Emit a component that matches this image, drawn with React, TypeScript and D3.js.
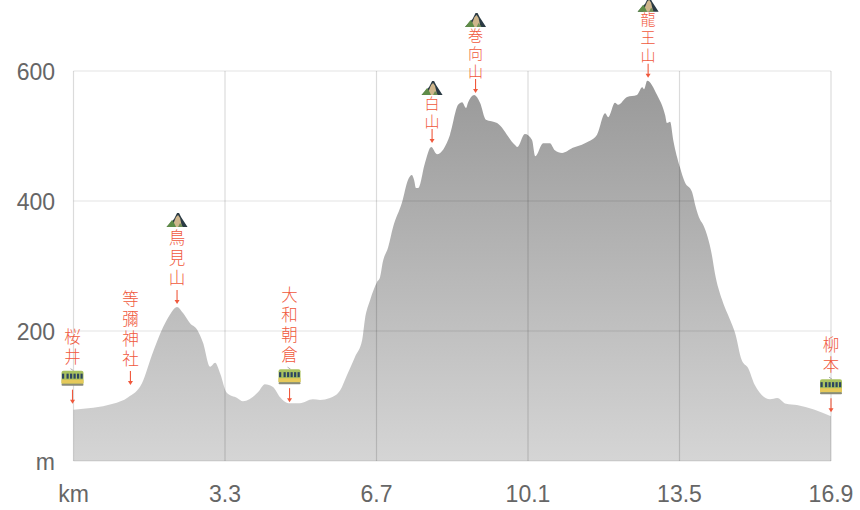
import React from "react";
import * as d3 from "d3";

const distances = [
  0, 0.88, 1.22, 1.53, 1.75, 2.0, 2.15, 2.31, 2.44, 2.6, 2.76, 2.89, 3.05, 3.16, 3.27, 3.42, 3.65, 3.78,
  4.12, 4.27, 4.45, 4.61, 4.79, 5.05, 5.34, 5.5, 5.72, 5.95, 6.1, 6.28, 6.44, 6.5, 6.62, 6.77, 6.84, 6.9,
  7.02, 7.13, 7.33, 7.46, 7.55, 7.6, 7.64, 7.69, 7.84, 7.98, 8.11, 8.4, 8.58, 8.67, 8.76, 8.8, 8.94, 9.07,
  9.2, 9.45, 9.85, 9.9, 10.07, 10.23, 10.3, 10.48, 10.63, 10.74, 10.9, 11.14, 11.41, 11.68, 11.86, 11.93,
  12.08, 12.15, 12.35, 12.57, 12.69, 12.73, 12.8, 13.02, 13.2, 13.24, 13.31, 13.38, 13.53, 13.64, 13.8,
  13.87, 13.98, 14.05, 14.25, 14.31, 14.47, 14.65, 14.76, 14.91, 15.05, 15.2, 15.54, 15.7, 15.9, 16.14, 16.9,
];
const elevations = [
  79, 88, 98, 120, 163, 206, 225, 237, 228, 212, 202, 182, 145, 151, 135, 105, 97, 92,
  106, 118, 114, 98, 89, 89, 95, 94, 97, 109, 132, 160, 186, 217, 248, 275, 283, 306,
  329, 360, 398, 432, 440, 432, 420, 420, 458, 483, 472, 502, 548, 552, 543, 551, 563, 551,
  525, 520, 486, 483, 503, 494, 469, 489, 489, 478, 474, 482, 489, 502, 535, 529,
  551, 548, 560, 563, 575, 572, 585, 563, 532, 520, 522, 494, 452, 429, 414,
  394, 371, 363, 314, 289, 248, 217, 197, 155, 143, 117, 95, 97, 88, 86, 69,
];

const yTicks = [0, 200, 400, 600];
const yLabels = ["m", "200", "400", "600"];
const xLabels = ["km", "3.3", "6.7", "10.1", "13.5", "16.9"];

const placeNames = ["桜井", "等彌神社", "鳥見山", "大和朝倉", "白山", "巻向山", "龍王山", "柳本"];
const placeKm = [0, 1.27, 2.31, 4.82, 8.0, 8.97, 12.82, 16.9];
const placeElev = [79, 100, 237, 89, 483, 563, 585, 69];
const placeIcons = ["train", "", "mountain", "train", "mountain", "mountain", "mountain", "train"];

const W = 860;
const H = 510;
const M = { l: 73.5, r: 29, t: 71, b: 49 };
const RED = "#f0583c";
const FONT = "'Liberation Sans', Arial, sans-serif";
const CJK = "'Noto Sans CJK JP', sans-serif";

// gap between the arrow tip and the ground, per place
const tipGaps = [6, 11, 3, 1, 4, 2, 3, 4];

const Mountain = ({ x, y }: { x: number; y: number }) => (
  <g transform={`translate(${x},${y})`}>
    <path d="M-10.5,7 L-3,-1 L0,-7 L2,-7 L4,-3 L10.5,7 Z" fill="#2b3b44" />
    <path d="M-5,7 L-1,-3 L1,-5 L3,-2 L5,7 Z" fill="#cfb68c" />
    <path d="M-10.5,7 L-5,0 L-3,3 L-1,7 Z" fill="#5f8c48" />
    <path d="M1,7 L3,3 L6,7 Z" fill="#6f8f55" />
  </g>
);

const Train = ({ x, y }: { x: number; y: number }) => (
  <g transform={`translate(${x},${y})`}>
    <path d="M-2,-9 L1,-7" stroke="#999" strokeWidth={0.8} />
    <rect x={-11} y={-7} width={22} height={14} rx={2} fill="#a9c25f" />
    <rect x={-11} y={2} width={22} height={4} fill="#e6c95a" />
    <rect x={-11} y={6} width={22} height={2} rx={1} fill="#8a8a7a" />
    {[-9.5, -5, -1.5, 2, 5.5, 9].map((d) => (
      <rect key={d} x={d - 1} y={-4} width={2.2} height={5} fill="#2d4660" />
    ))}
  </g>
);

export default function App() {
  const x = d3.scaleLinear().domain([0, 16.9]).range([M.l, W - M.r]);
  const y = d3.scaleLinear().domain([0, 600]).range([H - M.b, M.t]);

  const area = d3
    .area<number>()
    .x((d) => x(d))
    .y0(y(0))
    .y1((_, i) => y(elevations[i]))
    .curve(d3.curveMonotoneX);

  const xTicks = xLabels.map((_, i) => (i * 16.9) / (xLabels.length - 1));

  return (
    <svg
      width={W}
      height={H}
      viewBox={`0 0 ${W} ${H}`}
      style={{ position: "absolute", left: 0, top: 0, background: "#fff" }}
    >
      <defs>
        <linearGradient id="profileFill" x1="0" y1="0" x2="0" y2="1">
          <stop offset="0%" stopColor="#999" />
          <stop offset="100%" stopColor="#d5d5d5" />
        </linearGradient>
      </defs>

      <path d={area(distances) ?? ""} fill="url(#profileFill)" />

      {yTicks.map((t) => (
        <line key={t} x1={M.l} x2={W - M.r} y1={y(t)} y2={y(t)} stroke="#000" strokeOpacity={0.11} strokeWidth={1.2} />
      ))}
      {xTicks.map((t) => (
        <line key={t} x1={x(t)} x2={x(t)} y1={M.t} y2={H - M.b} stroke="#000" strokeOpacity={0.14} strokeWidth={1.2} />
      ))}

      {yTicks.map((t, i) => (
        <text key={t} x={55} y={y(t) + 9} textAnchor="end" fontFamily={FONT} fontSize={23} fill="#666">
          {yLabels[i]}
        </text>
      ))}
      {xTicks.map((t, i) => (
        <text key={t} x={x(t)} y={502} textAnchor="middle" fontFamily={FONT} fontSize={23} fill="#666">
          {xLabels[i]}
        </text>
      ))}

      {placeNames.map((name, i) => {
        const px = x(placeKm[i]) - (i === 0 ? 1 : 0);
        const tip = y(placeElev[i]) - tipGaps[i];
        const icon = placeIcons[i];
        const count = Array.from(name).length;
        // the three labels near the top of the chart are set a bit tighter
        const tight = i >= 4 && i <= 6;
        const step = tight ? 18 : 20;
        const size = tight ? 15 : 16.5;
        const bottom = icon === "train" ? tip - 47 : tight ? tip - 22 : tip - 26;
        const top = bottom - (count - 1) * step;
        return (
          <g key={name}>
            <line x1={px} x2={px} y1={tip - 14} y2={tip - 2} stroke={RED} strokeWidth={1.1} />
            <path d={`M${px - 2.5},${tip - 4} L${px},${tip} L${px + 2.5},${tip - 4} Z`} fill={RED} />
            <text
              x={px}
              y={top - size / 2}
              fontFamily={CJK}
              fontWeight={300}
              fontSize={size}
              fill={RED}
              style={{
                writingMode: "vertical-rl",
                textOrientation: "upright",
                letterSpacing: `${step - size}px`,
              }}
            >
              {name}
            </text>
            {icon === "train" && <Train x={px} y={tip - 26} />}
            {icon === "mountain" && <Mountain x={px} y={top - (tight ? 15 : 18)} />}
          </g>
        );
      })}
    </svg>
  );
}
